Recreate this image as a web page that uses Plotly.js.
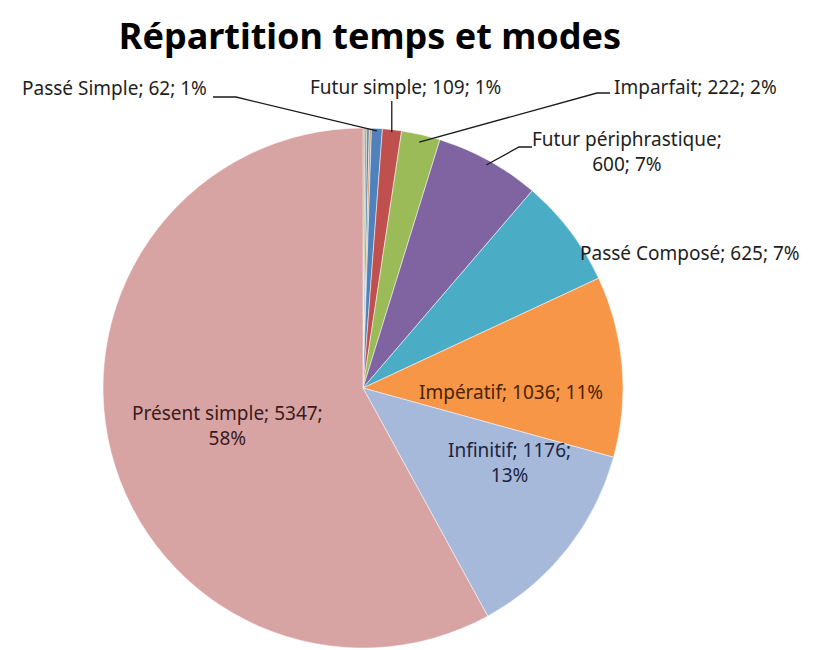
<!DOCTYPE html>
<html>
<head>
<meta charset="utf-8">
<script src="https://cdn.plot.ly/plotly-3.0.1.min.js"></script>
<style>html,body{margin:0;padding:0;background:#fff;}#chart{width:829px;height:650px;}</style>
</head>
<body>
<div id="chart"></div>
<script>
// ---- data (clockwise from 12 o'clock) ----
const categories = ["Autre 1", "Autre 2", "Autre 3", "Autre 4", "Passé Simple", "Futur simple", "Imparfait", "Futur périphrastique", "Passé Composé", "Impératif", "Infinitif", "Présent simple"];
const values = [12, 10, 14, 12, 62, 109, 222, 600, 625, 1036, 1176, 5347];
const colors = ["#A9B28F", "#7D9A5A", "#5E7FA8", "#D09A63", "#4F81BD", "#C0504D", "#9BBB59", "#8064A2", "#4BACC6", "#F79646", "#A6B9DA", "#D8A3A3"];
const breakAfterName = ["Futur périphrastique"];
const breakAfterValue = ["Infinitif", "Présent simple"];

// ---- geometry ----
const W = 829, H = 650;
const CX = 363, CY = 388, R = 260;
const px = x => x / W, py = y => 1 - y / H;

const total = values.reduce((a, b) => a + b, 0);
const mids = [];
let cum = 0;
values.forEach(v => { mids.push((cum + v / 2) / total * 2 * Math.PI); cum += v; });
function pt(i, f, dDeg) {
  const a = mids[i] + (dDeg || 0) * Math.PI / 180;
  return [CX + f * R * Math.sin(a), CY - f * R * Math.cos(a)];
}
function labelText(name) {
  const i = categories.indexOf(name);
  const v = values[i];
  const pct = Math.round(v / total * 100) + "%";
  if (breakAfterName.includes(name)) return name + ";<br>" + v + "; " + pct;
  if (breakAfterValue.includes(name)) return name + "; " + v + ";<br>" + pct;
  return name + "; " + v + "; " + pct;
}

const FONT = "Noto Sans, Open Sans, sans-serif";
const FS = 19;
const annotations = [];
const shapes = [];

// inside labels (positioned along slice angle)
const inside = [["Présent simple", 0.54, -1, "#3b1a1a"], ["Impératif", 0.57, 6.5, "#4a2200"], ["Infinitif", 0.63, -11.5, "#1c2540"]];
inside.forEach(([name, f, d, col]) => {
  const p = pt(categories.indexOf(name), f, d);
  annotations.push({text: labelText(name), x: px(p[0]), y: py(p[1]), xref: "paper", yref: "paper",
    showarrow: false, xanchor: "center", yanchor: "middle", font: {family: FONT, size: FS, color: col}});
});

// outside labels
const outside = [
  ["Passé Simple", 20, 88, "left"],
  ["Futur simple", 405, 87, "center"],
  ["Imparfait", 612, 87, "left"],
  ["Futur périphrastique", 627, 151, "center"],
  ["Passé Composé", 578, 253, "left"]
];
outside.forEach(([name, x, y, anc]) => {
  annotations.push({text: labelText(name), x: px(x), y: py(y), xref: "paper", yref: "paper",
    showarrow: false, xanchor: anc, yanchor: "middle", align: "center",
    font: {family: FONT, size: FS, color: "#1e1e1e"}});
});

// leader lines
function leader(points) {
  const d = points.map((p, k) => (k ? "L" : "M") + px(p[0]) + "," + py(p[1])).join(" ");
  shapes.push({type: "path", path: d, xref: "paper", yref: "paper", line: {color: "#1a1a1a", width: 1.3}});
}
let tip = pt(categories.indexOf("Passé Simple"), 0.99);
leader([[213, 97], [236, 97], tip]);
tip = pt(categories.indexOf("Futur simple"), 0.99);
leader([[tip[0], 101], tip]);
tip = pt(categories.indexOf("Imparfait"), 0.97);
leader([[610, 93], [597, 93], tip]);
tip = pt(categories.indexOf("Futur périphrastique"), 0.98);
leader([[532, 147], [519, 147], tip]);

const trace = {
  type: "pie",
  labels: categories,
  values: values,
  sort: false,
  direction: "clockwise",
  rotation: 0,
  textinfo: "none",
  hoverinfo: "label+value+percent",
  marker: {colors: colors, line: {color: "#ffffff", width: 0.5}},
  domain: {x: [px(CX - R), px(CX + R)], y: [py(CY + R), py(CY - R)]},
  showlegend: false
};

const layout = {
  width: W, height: H,
  margin: {l: 0, r: 0, t: 0, b: 0},
  paper_bgcolor: "#ffffff",
  title: {text: "<b>Répartition temps et modes</b>", x: px(370), y: py(36), xanchor: "center", yanchor: "middle",
    font: {family: FONT, size: 36, color: "#000000"}},
  annotations: annotations,
  shapes: shapes,
  showlegend: false
};

Plotly.newPlot("chart", [trace], layout, {displayModeBar: false, staticPlot: true});
</script>
</body>
</html>
